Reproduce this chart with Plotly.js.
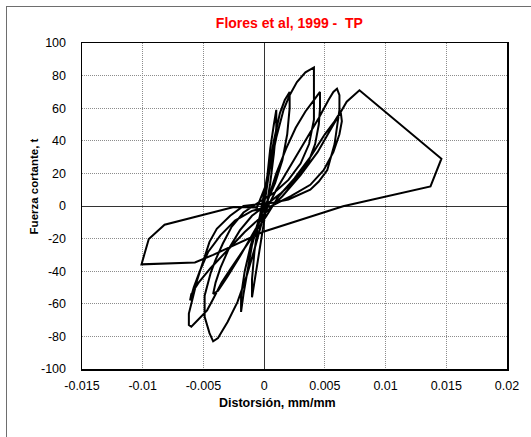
<!DOCTYPE html>
<html>
<head>
<meta charset="utf-8">
<script src="https://cdn.plot.ly/plotly-3.0.1.min.js"></script>
<style>
  html, body { margin: 0; padding: 0; background: #fff; }
  #wrap { position: relative; width: 531px; height: 437px; overflow: hidden; }
  #frame { position: absolute; left: 6px; top: 6px; width: 600px; height: 600px;
           border-left: 1px solid #6e6e6e; border-top: 1px solid #6e6e6e; pointer-events: none; }
  #chart { position: absolute; left: 0; top: 0; width: 531px; height: 437px; }
</style>
</head>
<body>
<div id="wrap">
  <div id="chart"></div>
  <div id="frame"></div>
</div>
<script>
// Distortion (mm/mm) and shear force (t), in loading order
const distortion = [
  0, 0.0002, 0.0005, 0.0008, 0.0010,
  0.0010, 0.0008, 0.0005, 0.0002, -0.0002, -0.0006, -0.0010,
  -0.0010, -0.0008, -0.0005, -0.0001,
  0.0003, 0.0008, 0.0013, 0.0017, 0.0021,
  0.0021, 0.0019, 0.0015, 0.0009, 0.0002, -0.0005, -0.0010, -0.0014, -0.0017, -0.0019,
  -0.0019, -0.0016, -0.0011, -0.0005, 0.0001,
  0.0004, 0.0010, 0.0016, 0.0021, 0.0027, 0.0034, 0.0041,
  0.0041, 0.0041, 0.0037, 0.0030, 0.0020, 0.0008, -0.0005, -0.0017, -0.0027, -0.0034, -0.0040, -0.0044, -0.0049, -0.0049, -0.0045, -0.0042,
  -0.0038, -0.0035, -0.0030, -0.0022, -0.0014, -0.0007, -0.0001, 0.0004,
  0.0010, 0.0018, 0.0026, 0.0034, 0.0041, 0.0046,
  0.0046, 0.0045, 0.0042, 0.0036, 0.0026, 0.0014, 0.0002, -0.0010, -0.0020, -0.0029, -0.0036, -0.0040, -0.0042,
  -0.0038, -0.0030, -0.0020, -0.0010, 0.0000,
  0.0010, 0.0022, 0.0034, 0.0045, 0.0053, 0.0057, 0.0060,
  0.0062, 0.0062, 0.0060, 0.0058, 0.0052, 0.0045, 0.0038, 0.0020, 0.0007, -0.0008, -0.0017, -0.0028, -0.0039, -0.0045, -0.0050, -0.0055, -0.0059, -0.0062, -0.0062,
  -0.0060, -0.0056, -0.0050, -0.0047, -0.0042, -0.0035, -0.0028, -0.0018, -0.0008, 0.0002,
  0.0012, 0.0025, 0.0038, 0.0050, 0.0058, 0.0063,
  0.0064, 0.0062, 0.0057, 0.0049, 0.0038, 0.0022, 0.0006, -0.0010, -0.0024, -0.0036, -0.0046, -0.0053, -0.0058, -0.0061,
  -0.0060, -0.0054, -0.0044, -0.0030, -0.0016, 0.0000, 0.0015, 0.0030, 0.0044, 0.0054, 0.0060, 0.0063,
  0.0068, 0.00785, 0.0146, 0.0137, 0.0065, 0.0000,
  -0.0042, -0.0057, -0.0075, -0.0101,
  -0.0095, -0.0082, -0.0025, -0.0006, 0.0001
];
const shearForce = [
  0, 15, 35, 50, 59,
  48, 32, 14, 0, -16, -36, -56,
  -45, -28, -12, 4,
  20, 40, 57, 65, 70,
  60, 44, 28, 14, 2, -10, -24, -40, -54, -65,
  -55, -40, -24, -10, 5,
  20, 42, 59, 68, 76, 82, 85,
  70, 53, 38, 26, 16, 8, 2, -4, -13, -23, -33, -41, -55, -68, -78, -83,
  -81, -77, -71, -59, -42, -24, -8, 6,
  20, 35, 48, 58, 65, 70,
  60, 50, 38, 26, 16, 8, 1, -6, -15, -26, -38, -47, -54,
  -52, -43, -31, -18, -5,
  10, 25, 40, 54, 65, 70, 72,
  68, 59, 48, 38, 22, 15, 10, 4, 2, 1, 0, -6, -14, -22, -33, -45, -57, -66, -73,
  -74, -71, -66, -64, -57, -47, -39, -28, -17, -6,
  6, 17, 30, 44, 52, 58,
  52, 44, 33, 22, 13, 6, 0, -3, -9, -18, -28, -40, -50, -58,
  -54, -47, -38, -27, -16, -5, 6, 19, 33, 46, 54, 58,
  64, 71, 29, 12, -0.2, -15.6,
  -30, -34.6, -35.2, -35.8,
  -20.2, -11.5, -0.6, -1, 12
];

const xTickVals = [-0.015, -0.01, -0.005, 0, 0.005, 0.01, 0.015, 0.02];
const xTickText = ['-0.015', '-0.01', '-0.005', '0', '0.005', '0.01', '0.015', '0.02'];
const yTickVals = [-100, -80, -60, -40, -20, 0, 20, 40, 60, 80, 100];
const yTickText = ['-100', '-80', '-60', '-40', '-20', '0', '20', '40', '60', '80', '100'];

const fontFam = 'Liberation Sans, Arial, sans-serif';

const trace = {
  x: distortion, y: shearForce, type: 'scatter', mode: 'lines',
  line: { color: '#000', width: 2 }, hoverinfo: 'skip'
};

const layout = {
  width: 531, height: 437,
  margin: { l: 82, r: 24, t: 43, b: 68 },
  paper_bgcolor: '#fff', plot_bgcolor: '#fff',
  showlegend: false,
  font: { family: fontFam, color: '#000', size: 12 },
  title: {
    text: '<b>Flores et al, 1999 - \u00a0TP</b>',
    font: { family: fontFam, size: 14, color: '#ff0000' },
    xref: 'container', x: 0.545, xanchor: 'center', y: 0.947, yanchor: 'middle'
  },
  xaxis: {
    range: [-0.015, 0.02], tickmode: 'array', tickvals: xTickVals, ticktext: xTickText,
    showgrid: true, gridcolor: '#8c8c8c', griddash: '1px,1px', gridwidth: 1,
    zeroline: true, zerolinecolor: '#333', zerolinewidth: 1,
    showline: true, linecolor: '#000', linewidth: 1.5, mirror: true,
    ticks: 'outside', ticklen: 4, tickcolor: 'rgba(0,0,0,0)',
    tickfont: { family: fontFam, size: 12.5, color: '#000' }
  },
  yaxis: {
    range: [-100, 100], tickmode: 'array', tickvals: yTickVals, ticktext: yTickText,
    showgrid: true, gridcolor: '#8c8c8c', griddash: '1px,1px', gridwidth: 1,
    zeroline: true, zerolinecolor: '#333', zerolinewidth: 1,
    showline: true, linecolor: '#000', linewidth: 1.5, mirror: true,
    ticks: 'outside', ticklen: 12, tickcolor: 'rgba(0,0,0,0)',
    tickfont: { family: fontFam, size: 12.5, color: '#000' }
  },
  annotations: [
    { text: '<b>Distorsión, mm/mm</b>', xref: 'paper', yref: 'paper',
      x: 0.46, y: -0.105, xanchor: 'center', yanchor: 'middle', showarrow: false,
      font: { family: fontFam, size: 12.5, color: '#000' } },
    { text: '<b>Fuerza cortante, t</b>', xref: 'paper', yref: 'paper',
      x: -0.113, y: 0.56, xanchor: 'center', yanchor: 'middle', showarrow: false, textangle: -90,
      font: { family: fontFam, size: 11.5, color: '#000' } }
  ]
};

Plotly.newPlot('chart', [trace], layout, { displayModeBar: false, staticPlot: true });
</script>
</body>
</html>
